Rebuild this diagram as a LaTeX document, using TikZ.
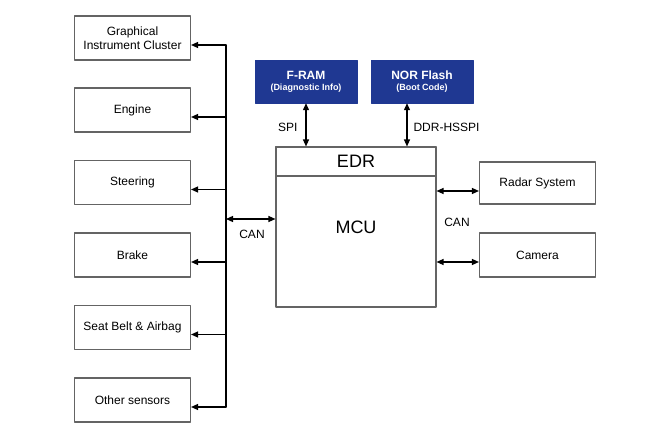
\documentclass[tikz,border=0pt]{standalone}
\usepackage{fontspec}
\setmainfont{Liberation Sans}
\usetikzlibrary{arrows.meta}
\definecolor{Mfill}{RGB}{31,56,146}
\definecolor{Bline}{RGB}{100,100,100}

\begin{document}
\begin{tikzpicture}[x=1pt,y=-1pt,line cap=round,line join=round,
  unit/.style={draw=Bline,line width=1.1pt,fill=white,minimum width=116pt,minimum height=44pt,inner sep=0pt,align=center,font=\fontsize{12}{14}\selectfont},
  mem/.style={draw=Mfill,fill=Mfill,text=white,minimum width=102pt,minimum height=43pt,inner sep=0pt,align=center},
  tip/.style={line width=1.2pt,-{Triangle[length=7pt,width=6pt]}},
  dbl/.style={line width=1.2pt,{Triangle[length=7pt,width=6pt]}-{Triangle[length=7pt,width=6pt]}},
  lbl/.style={font=\fontsize{12}{14}\selectfont}]
\path[use as bounding box] (0,0) rectangle (665,439);
% left side units
\node[unit] (gic) at (132.5,38) {Graphical\\Instrument Cluster};
\node[unit] (eng) at (132.5,110) {Engine};
\node[unit] (str) at (132.5,182.5) {Steering};
\node[unit] (brk) at (132.5,255) {Brake};
\node[unit] (sba) at (132.5,327.5) {Seat Belt \& Airbag};
\node[unit] (oth) at (132.5,400) {Other sensors};
% recorder
\node[draw=Bline,line width=1.1pt,minimum width=160pt,minimum height=160pt,inner sep=0pt,font=\fontsize{18}{20}\selectfont] (mcu) at (356,227) {MCU};
\node[draw=Bline,line width=1.1pt,minimum width=160pt,minimum height=29pt,inner sep=0pt,anchor=north,font=\fontsize{18}{20}\selectfont] (edr) at (mcu.north) {EDR};
% memories
\node[mem] (fram) at (306,81.5) {{\fontsize{12}{14}\selectfont\bfseries F-RAM}\\[-1pt]{\fontsize{9}{11}\selectfont\bfseries (Diagnostic Info)}};
\node[mem] (nor) at (422,81.5) {{\fontsize{12}{14}\selectfont\bfseries NOR Flash}\\[-1pt]{\fontsize{9}{11}\selectfont\bfseries (Boot Code)}};
% right side units
\node[unit,minimum height=42pt] (rad) at (537.5,183) {Radar System};
\node[unit] (cam) at (537.5,255) {Camera};
% CAN bus
\coordinate (bus) at (226,0);
\foreach \n in {gic,eng,str,brk,sba,oth}{
  \coordinate (\n-in) at ([yshift=-7pt]\n.east);
  \draw[tip] (\n-in -| bus) -- (\n-in);
}
\draw[line width=1.2pt] (gic-in -| bus) -- (oth-in -| bus);
\coordinate (canl) at ([yshift=8pt]mcu.west);
\draw[dbl] (canl -| bus) -- (canl);
\node[lbl] (canleft) at (252,234) {CAN};
% memory links
\coordinate (norl) at ([xshift=-15pt]nor.south);
\draw[dbl] (fram.south) -- (fram.south |- edr.north);
\draw[dbl] (norl) -- (norl |- edr.north);
\node[lbl,anchor=east] (spi) at (301,127) {SPI};
\node[lbl,anchor=west] (hsspi) at (410,127) {DDR-HSSPI};
% right links
\coordinate (radin) at ([yshift=-8pt]rad.west);
\coordinate (camin) at ([yshift=-7pt]cam.west);
\draw[dbl] (radin -| mcu.east) -- (radin);
\draw[dbl] (camin -| mcu.east) -- (camin);
\node[lbl] (canright) at (457,222) {CAN};
\end{tikzpicture}
\end{document}
